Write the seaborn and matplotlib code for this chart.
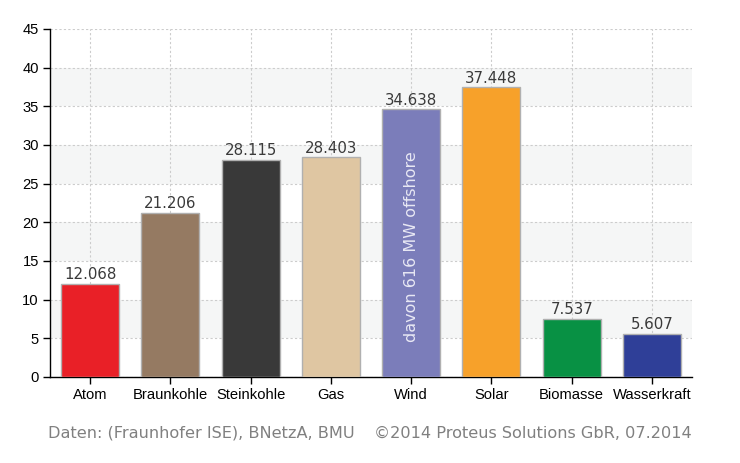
import matplotlib
matplotlib.use("Agg")
import matplotlib.pyplot as plt
import seaborn as sns
import pandas as pd

categories = ["Atom", "Braunkohle", "Steinkohle", "Gas", "Wind", "Solar", "Biomasse", "Wasserkraft"]
values = [12.068, 21.206, 28.115, 28.403, 34.638, 37.448, 7.537, 5.607]
colors = ["#e92027", "#957a62", "#393939", "#dfc6a2", "#7b7dba", "#f7a12a", "#089144", "#2f3f98"]
y_ticks = [0, 5, 10, 15, 20, 25, 30, 35, 40, 45]
wind_note = "davon 616 MW offshore"
footer_left = "Daten: (Fraunhofer ISE), BNetzA, BMU"
footer_right = "©2014 Proteus Solutions GbR, 07.2014"

sns.set_theme(style="white")
plt.rcParams['font.family'] = ['Liberation Sans', 'DejaVu Sans']

df = pd.DataFrame({"cat": categories, "val": values})

fig = plt.figure(figsize=(7.4, 4.63), dpi=100)
ax = fig.add_axes([50/740, 1-377/463, 642/740, 348/463])

# alternating bands
for lo in [5, 15, 25, 35]:
    ax.axhspan(lo, lo + 5, color="#f5f6f6", zorder=0, lw=0)

sns.barplot(data=df, x="cat", y="val", hue="cat", palette=colors, legend=False,
            width=0.72, edgecolor="#b0b0b0", linewidth=1.0, ax=ax, zorder=3, saturation=1)

ax.set_ylim(0, 45)
ax.set_xlim(-0.5, len(categories) - 0.5)
ax.set_yticks(y_ticks)
ax.set_xlabel("")
ax.set_ylabel("")

ax.grid(True, axis="both", linestyle=(0, (2, 2)), color="#cccccc", linewidth=0.8, zorder=1)
ax.set_axisbelow(True)

for s in ["top", "right"]:
    ax.spines[s].set_visible(False)
for s in ["left", "bottom"]:
    ax.spines[s].set_color("#000000")
    ax.spines[s].set_linewidth(1.0)

ax.tick_params(axis="both", which="major", direction="out", length=5, width=1, color="#000000",
               labelsize=10.6, labelcolor="#000000", left=True, bottom=True, pad=3)

for i, v in enumerate(values):
    ax.text(i, v + 0.2, f"{v:.3f}", ha="center", va="bottom", fontsize=10.8,
            color="#3a3a3a", family=["DejaVu Sans"], zorder=5)

wi = categories.index("Wind")
ax.text(wi, values[wi] / 2 - 0.4, wind_note, rotation=90, ha="center", va="center",
        fontsize=11.5, color="#e8e8f4", family=["DejaVu Sans"], zorder=5)

fig.text(48/740, 1-433/463, footer_left, ha="left", va="center", fontsize=11.6,
         color="#808080", family=["DejaVu Sans"])
fig.text(692/740, 1-433/463, footer_right, ha="right", va="center", fontsize=11.6,
         color="#808080", family=["DejaVu Sans"])

fig.savefig("out.png", dpi=100)
